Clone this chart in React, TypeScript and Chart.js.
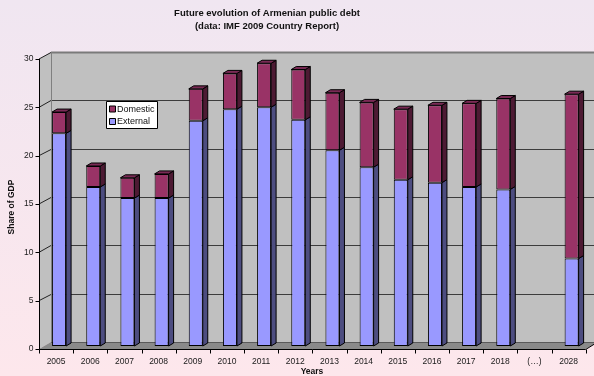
import React, { useEffect, useRef } from 'react';
import { Chart, registerables } from 'chart.js';

Chart.register(...registerables);

const categories = ['2005', '2006', '2007', '2008', '2009', '2010', '2011', '2012', '2013', '2014', '2015', '2016', '2017', '2018', '(…)', '2028'];
const externalDebt = [22.0, 16.45, 15.3, 15.3, 23.3, 24.5, 24.7, 23.4, 20.25, 18.5, 17.2, 16.9, 16.45, 16.2, null, 9.05];
const domesticDebt = [2.2, 2.17, 2.1, 2.5, 3.3, 3.7, 4.55, 5.2, 5.95, 6.7, 7.3, 8.0, 8.65, 9.4, null, 17.0];
const yTicks = [0, 5, 10, 15, 20, 25, 30];
const titleLines = ['Future evolution of Armenian public debt', '(data: IMF 2009 Country Report)'];
const yTitle = 'Share of GDP';
const xTitle = 'Years';

const FONT = '"Liberation Sans", Arial, sans-serif';
const FRONT = { dx: -3, dy: 3 };
const BACK = { dx: 9, dy: -4 };
const DEPTH = { dx: 5, dy: -3 };
const SIDE_COLORS = ['#4d4d80', '#4d1a33'];
const TOP_COLORS = ['#6f6fb8', '#7a2a55'];

const threeD = {
  id: 'threeD',
  beforeDraw(chart: any) {
    const ctx = chart.ctx;
    const W = chart.width, H = chart.height;
    ctx.save();
    const g = ctx.createLinearGradient(0, 0, 0, H);
    g.addColorStop(0, '#f0e6f1');
    g.addColorStop(1, '#fde7ec');
    ctx.fillStyle = g;
    ctx.fillRect(0, 0, W, H);
    ctx.fillStyle = '#111';
    ctx.font = 'bold 9.5px ' + FONT;
    ctx.textAlign = 'center';
    ctx.textBaseline = 'middle';
    ctx.fillText(titleLines[0], 267, 13.5);
    ctx.fillText(titleLines[1], 267, 26.5);
    ctx.restore();
  },
  beforeDatasetsDraw(chart: any) {
    const ctx = chart.ctx;
    const ca = chart.chartArea;
    const ys = chart.scales.y;
    const xs = chart.scales.x;
    const fL = ca.left + FRONT.dx, fR = ca.right + FRONT.dx;
    const bL = ca.left + BACK.dx, bR = ca.right + BACK.dx;
    const yF = (v: number) => ys.getPixelForValue(v) + FRONT.dy;
    const yB = (v: number) => ys.getPixelForValue(v) + BACK.dy;
    const top = yTicks[yTicks.length - 1];
    ctx.save();
    // back wall
    ctx.fillStyle = '#c0c0c0';
    ctx.fillRect(bL, yB(top), bR - bL, yB(0) - yB(top));
    // side wall
    ctx.beginPath();
    ctx.moveTo(fL, yF(top)); ctx.lineTo(bL, yB(top)); ctx.lineTo(bL, yB(0)); ctx.lineTo(fL, yF(0));
    ctx.closePath();
    ctx.fillStyle = '#c0c0c0';
    ctx.fill();
    // floor
    ctx.beginPath();
    ctx.moveTo(fL, yF(0)); ctx.lineTo(bL, yB(0)); ctx.lineTo(bR, yB(0)); ctx.lineTo(fR, yF(0));
    ctx.closePath();
    ctx.fillStyle = '#8a8a8a';
    ctx.fill();
    ctx.strokeStyle = '#5a5a5a';
    ctx.lineWidth = 1;
    ctx.beginPath();
    ctx.moveTo(bL, Math.round(yB(0)) + 0.5); ctx.lineTo(bR, Math.round(yB(0)) + 0.5);
    ctx.stroke();
    // gridlines
    for (const v of yTicks) {
      if (v === 0) continue;
      const yb = Math.round(yB(v)) + 0.5;
      ctx.beginPath();
      ctx.moveTo(fL, yF(v));
      ctx.lineTo(bL, yb);
      ctx.strokeStyle = '#222';
      ctx.lineWidth = 1;
      ctx.stroke();
      ctx.beginPath();
      ctx.moveTo(bL, yb);
      ctx.lineTo(bR, yb);
      if (v === top) { ctx.strokeStyle = '#7a7a7a'; ctx.lineWidth = 2; }
      else { ctx.strokeStyle = '#3c3c3c'; ctx.lineWidth = 1; }
      ctx.stroke();
    }
    ctx.strokeStyle = '#808080';
    ctx.lineWidth = 1;
    ctx.beginPath();
    ctx.moveTo(Math.round(bL) + 0.5, yB(top)); ctx.lineTo(Math.round(bL) + 0.5, yB(0));
    ctx.stroke();
    // axes
    const ax = Math.round(fL) + 0.5, ay = Math.round(yF(0)) + 0.5;
    ctx.strokeStyle = '#000';
    ctx.lineWidth = 1;
    ctx.beginPath();
    ctx.moveTo(ax, yF(top)); ctx.lineTo(ax, ay); ctx.lineTo(fR, ay); ctx.lineTo(bR, yB(0));
    ctx.stroke();
    ctx.beginPath();
    for (const v of yTicks) {
      const y = Math.round(yF(v)) + 0.5;
      ctx.moveTo(ax - 4, y); ctx.lineTo(ax, y);
    }
    const n = categories.length;
    for (let k = 0; k <= n; k++) {
      const x = Math.round(fL + (k * (fR - fL)) / n) + 0.5;
      ctx.moveTo(x, ay); ctx.lineTo(x, ay + 4);
    }
    ctx.stroke();
    // tick labels
    ctx.fillStyle = '#1a1a1a';
    ctx.font = '8.5px ' + FONT;
    ctx.textAlign = 'right';
    ctx.textBaseline = 'middle';
    for (const v of yTicks) ctx.fillText(String(v), ax - 6, yF(v));
    ctx.textAlign = 'center';
    categories.forEach((c, i) => {
      ctx.fillText(c, xs.getPixelForValue(i) + FRONT.dx, ay + 12.5);
    });
    // axis titles
    ctx.fillStyle = '#111';
    ctx.font = 'bold 8.5px ' + FONT;
    ctx.fillText(xTitle, 312, 372);
    ctx.save();
    ctx.translate(12, 207);
    ctx.rotate(-Math.PI / 2);
    ctx.fillText(yTitle, 0, 0);
    ctx.restore();
    ctx.restore();
  },
  afterDatasetsDraw(chart: any) {
    const ctx = chart.ctx;
    ctx.save();
    ctx.strokeStyle = '#000';
    ctx.lineWidth = 1;
    ctx.lineJoin = 'round';
    const metas = [chart.getDatasetMeta(0), chart.getDatasetMeta(1)];
    const datasets = chart.data.datasets;
    for (let j = 0; j < categories.length; j++) {
      let topIdx = -1;
      for (let d = 0; d < metas.length; d++) {
        const val = datasets[d].data[j];
        if (val == null || val === 0) continue;
        topIdx = d;
        const el = metas[d].data[j];
        const p = el.getProps(['x', 'y', 'base', 'width'], true);
        const xr = p.x + p.width / 2;
        ctx.beginPath();
        ctx.moveTo(xr, p.y); ctx.lineTo(xr + DEPTH.dx, p.y + DEPTH.dy);
        ctx.lineTo(xr + DEPTH.dx, p.base + DEPTH.dy); ctx.lineTo(xr, p.base);
        ctx.closePath();
        ctx.fillStyle = SIDE_COLORS[d];
        ctx.fill();
        ctx.stroke();
      }
      if (topIdx >= 0) {
        const el = metas[topIdx].data[j];
        const p = el.getProps(['x', 'y', 'base', 'width'], true);
        const xl = p.x - p.width / 2, xr = p.x + p.width / 2;
        ctx.beginPath();
        ctx.moveTo(xl, p.y); ctx.lineTo(xl + DEPTH.dx, p.y + DEPTH.dy);
        ctx.lineTo(xr + DEPTH.dx, p.y + DEPTH.dy); ctx.lineTo(xr, p.y);
        ctx.closePath();
        ctx.fillStyle = TOP_COLORS[topIdx];
        ctx.fill();
        ctx.stroke();
      }
    }
    // legend
    const lx = 106.5, ly = 101.5, lw = 51, lh = 27;
    ctx.fillStyle = '#ffffff';
    ctx.fillRect(lx, ly, lw, lh);
    ctx.strokeStyle = '#000';
    ctx.strokeRect(lx, ly, lw, lh);
    ctx.font = '9px ' + FONT;
    ctx.textAlign = 'left';
    ctx.textBaseline = 'middle';
    const order = [1, 0];
    order.forEach((d, k) => {
      const cy = 109 + k * 12.5;
      ctx.fillStyle = datasets[d].backgroundColor;
      ctx.fillRect(109.5, cy - 3, 6, 6);
      ctx.strokeStyle = '#000';
      ctx.strokeRect(109.5, cy - 3, 6, 6);
      ctx.fillStyle = '#111';
      ctx.fillText(datasets[d].label, 117, cy + 0.5);
    });
    ctx.restore();
  },
};

export default function App() {
  const ref = useRef<HTMLCanvasElement | null>(null);
  useEffect(() => {
    document.body.style.margin = '0';
    const canvas = ref.current;
    if (!canvas) return;
    const chart = new Chart(canvas, {
      type: 'bar',
      data: {
        labels: categories,
        datasets: [
          {
            label: 'External',
            data: externalDebt,
            backgroundColor: '#9999ff',
            borderColor: '#000',
            borderWidth: 1,
            borderSkipped: false,
            barPercentage: 0.41,
            categoryPercentage: 1,
          },
          {
            label: 'Domestic',
            data: domesticDebt,
            backgroundColor: '#993366',
            borderColor: '#000',
            borderWidth: 1,
            borderSkipped: false,
            barPercentage: 0.41,
            categoryPercentage: 1,
          },
        ],
      },
      options: {
        responsive: false,
        animation: false,
        devicePixelRatio: 1,
        layout: { padding: { left: 42, right: 5.3, top: 56, bottom: 30 } },
        plugins: {
          legend: { display: false },
          title: { display: false },
          tooltip: { enabled: false },
        },
        scales: {
          x: { type: 'category', stacked: true, display: false, offset: true },
          y: { stacked: true, display: false, min: 0, max: 30 },
        },
      },
      plugins: [threeD],
    });
    return () => chart.destroy();
  }, []);
  return (
    <div style={{ width: 594, height: 376 }}>
      <canvas ref={ref} width={594} height={376} style={{ display: 'block' }} />
    </div>
  );
}
